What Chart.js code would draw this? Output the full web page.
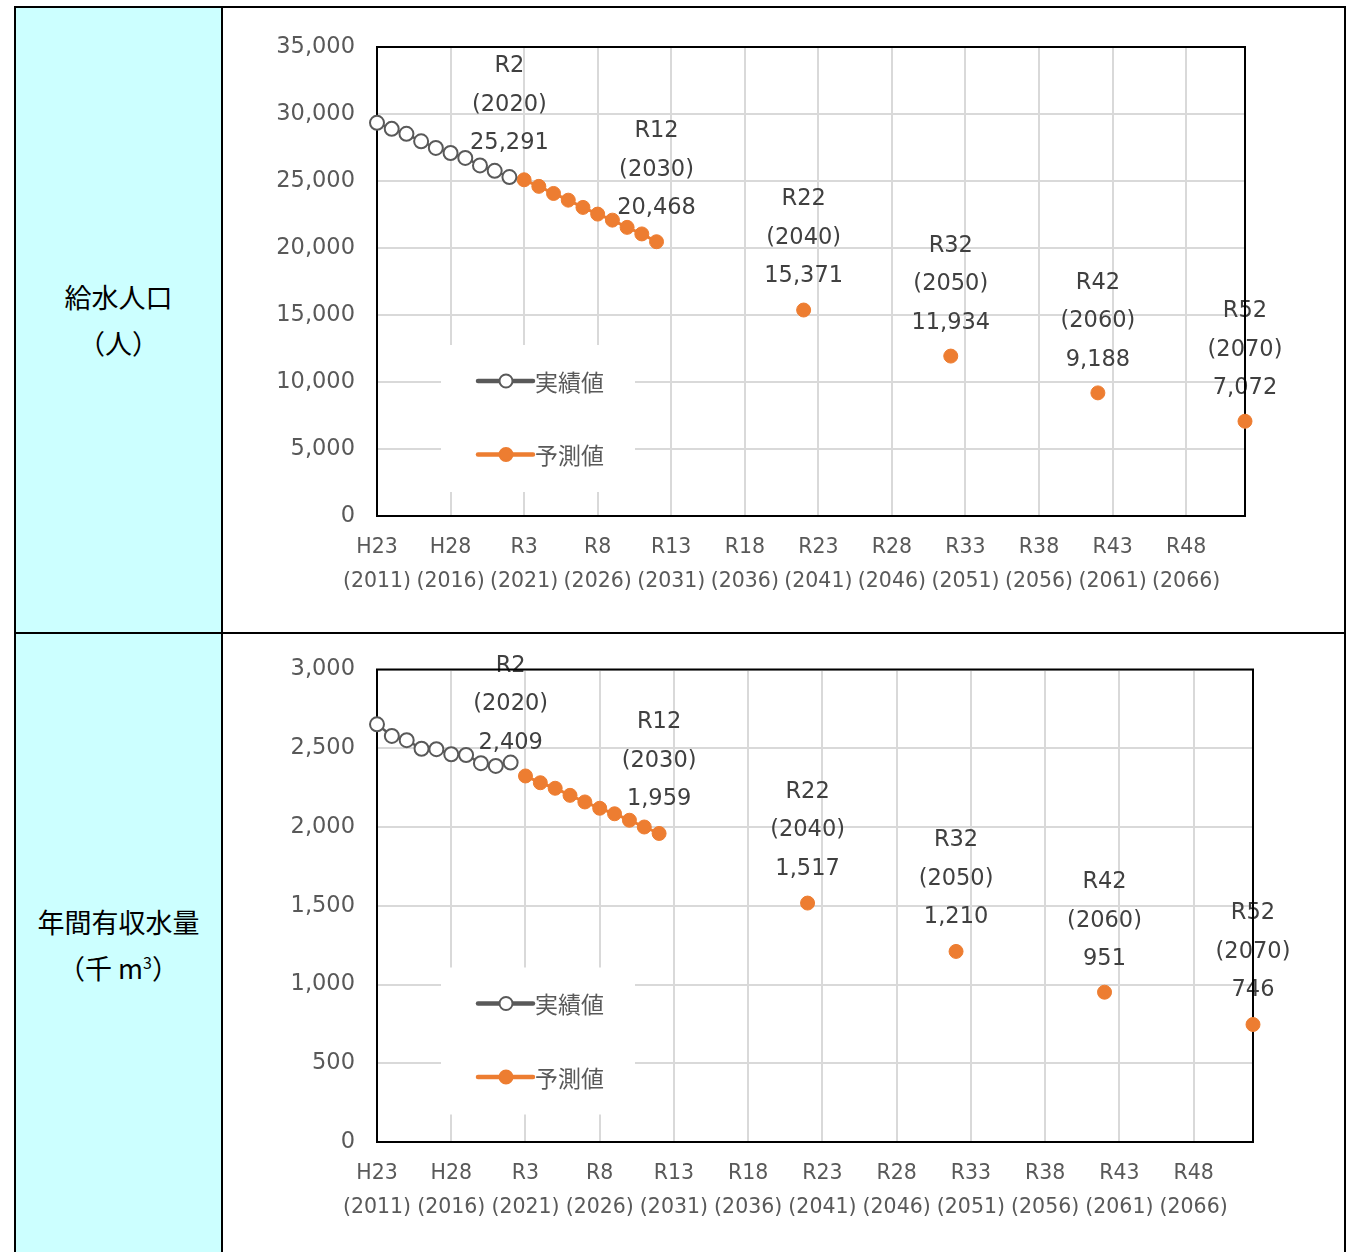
<!DOCTYPE html>
<html lang="ja">
<head>
<meta charset="utf-8">
<title>給水人口・年間有収水量の見通し</title>
<script src="https://cdn.jsdelivr.net/npm/chart.js"></script>
<style>
  body { margin: 0; background: #fff; width: 1352px; height: 1252px; overflow: hidden; position: relative; font-family: "Noto Sans CJK JP", sans-serif; }
  .abs { position: absolute; }
  .cyan { left: 14px; top: 6px; width: 208px; height: 1260px; background: #ccffff; }
  .line { background: #000; }
  .head { left: 16px; width: 205px; text-align: center; font-size: 27px; line-height: 46px; color: #000; }
  .head sup { font-size: 16px; line-height: 0; vertical-align: 10px; }
  canvas { position: absolute; }
</style>
</head>
<body>
<div class="abs cyan"></div>
<div class="abs head" style="top:274px">給水人口<br>（人）</div>
<div class="abs head" style="top:899px">年間有収水量<br>（千 m<sup>3</sup>）</div>
<canvas id="popChart" width="1119" height="623" style="left:224px;top:8px"></canvas>
<canvas id="waterChart" width="1119" height="618" style="left:224px;top:634px"></canvas>
<div class="abs line" style="left:14px;top:6px;width:1332px;height:2px"></div>
<div class="abs line" style="left:14px;top:6px;width:2px;height:1260px"></div>
<div class="abs line" style="left:221px;top:6px;width:2px;height:1260px"></div>
<div class="abs line" style="left:1344px;top:6px;width:2px;height:1260px"></div>
<div class="abs line" style="left:14px;top:632px;width:1332px;height:2px"></div>
<script>
  // 年度（カテゴリ）2011〜2070
  const years = []
  for (let y = 2011; y <= 2070; y++) years.push(String(y))

  // 5年ごとの目盛（和暦）
  const tickEras = ['H23', 'H28', 'R3', 'R8', 'R13', 'R18', 'R23', 'R28', 'R33', 'R38', 'R43', 'R48']

  // 値ラベルを付ける年度
  const labelYears = ['2020', '2030', '2040', '2050', '2060', '2070']
  const labelEras = ['R2', 'R12', 'R22', 'R32', 'R42', 'R52']

  // 実績 2011-2020、予測 2021-2030、以降は10年ごと
  const longTermYears = ['2040', '2050', '2060', '2070']

  // 給水人口（人）
  const popActual = [29340, 28890, 28520, 27960, 27470, 27090, 26720, 26160, 25760, 25291]
  const popForecast = [25090, 24600, 24070, 23570, 23030, 22530, 22080, 21540, 21050, 20468]
  const popLongTerm = [15371, 11934, 9188, 7072]

  // 年間有収水量（千m3）
  const waterActual = [2652, 2578, 2551, 2497, 2494, 2462, 2457, 2405, 2388, 2409]
  const waterForecast = [2324, 2281, 2246, 2201, 2159, 2119, 2084, 2043, 2000, 1959]
  const waterLongTerm = [1517, 1210, 951, 746]

  const GREY = '#595959'
  const ORANGE = '#ed7d31'
  const LATIN = '"DejaVu Sans", "Noto Sans CJK JP", sans-serif'

  function actualSeries(actual) {
    return years.map((y, i) => (i < actual.length ? actual[i] : null))
  }

  function forecastSeries(forecast, longTerm) {
    return years.map((y, i) => {
      if (i >= 10 && i < 10 + forecast.length) return forecast[i - 10]
      const k = longTermYears.indexOf(y)
      return k >= 0 ? longTerm[k] : null
    })
  }

  // 凡例・値ラベル・枠線
  const overlay = {
    id: 'overlay',
    beforeDatasetsDraw(chart, args, opts) {
      const ctx = chart.ctx
      const area = chart.chartArea
      const xs = chart.scales.x
      const ys = chart.scales.y
      ctx.save()

      // legend
      ctx.fillStyle = '#fff'
      ctx.fillRect(area.left + 64, area.top + 298, 194, 147)
      const items = [
        { text: '実績値', color: GREY, fill: '#fff' },
        { text: '予測値', color: ORANGE, fill: ORANGE },
      ]
      items.forEach((it, k) => {
        const y = area.top + 334 + k * 73.5
        const x0 = area.left + 101
        ctx.strokeStyle = it.color
        ctx.lineWidth = 4.5
        ctx.lineCap = 'round'
        ctx.beginPath()
        ctx.moveTo(x0, y)
        ctx.lineTo(x0 + 55, y)
        ctx.stroke()
        ctx.beginPath()
        ctx.arc(x0 + 28, y, 6.5, 0, Math.PI * 2)
        ctx.fillStyle = it.fill
        ctx.fill()
        ctx.lineWidth = 2
        ctx.stroke()
        ctx.fillStyle = GREY
        ctx.font = '23px "Noto Sans CJK JP", sans-serif'
        ctx.textAlign = 'left'
        ctx.textBaseline = 'middle'
        ctx.fillText(it.text, x0 + 57, y + 1)
      })

      // value labels
      const a = chart.data.datasets[0].data
      const f = chart.data.datasets[1].data
      ctx.fillStyle = '#404040'
      ctx.font = '22.5px ' + LATIN
      ctx.textAlign = 'center'
      ctx.textBaseline = 'middle'
      labelYears.forEach((yr, j) => {
        const i = years.indexOf(yr)
        const v = a[i] != null ? a[i] : f[i]
        const px = xs.getPixelForValue(i)
        const py = ys.getPixelForValue(v) - opts.lifts[j]
        ctx.fillText(labelEras[j], px, py - 77)
        ctx.fillText('(' + yr + ')', px, py - 38.5)
        ctx.fillText(v.toLocaleString('en-US'), px, py)
      })

      // plot frame
      ctx.strokeStyle = '#000'
      ctx.lineWidth = 2
      ctx.strokeRect(area.left, area.top, area.right - area.left, area.bottom - area.top)
      ctx.restore()
    },
  }

  function makeChart(id, actual, forecast, longTerm, yMax, yStep, pad, xHeight, lifts) {
    return new Chart(document.getElementById(id), {
      type: 'line',
      data: {
        labels: years,
        datasets: [
          {
            label: '実績値',
            data: actualSeries(actual),
            borderColor: GREY,
            borderWidth: 2.5,
            pointRadius: 7,
            pointBackgroundColor: '#fff',
            pointBorderColor: GREY,
            pointBorderWidth: 2,
            clip: false,
          },
          {
            label: '予測値',
            data: forecastSeries(forecast, longTerm),
            borderColor: ORANGE,
            borderWidth: 3,
            pointRadius: 7,
            pointBackgroundColor: ORANGE,
            pointBorderColor: ORANGE,
            pointBorderWidth: 1,
            clip: false,
          },
        ],
      },
      options: {
        responsive: false,
        animation: false,
        events: [],
        layout: { padding: pad },
        plugins: {
          legend: { display: false },
          tooltip: { enabled: false },
          overlay: { lifts: lifts },
        },
        scales: {
          x: {
            grid: { color: '#d9d9d9', lineWidth: 2, drawTicks: false },
            border: { display: false },
            ticks: {
              autoSkip: false,
              maxRotation: 0,
              minRotation: 0,
              padding: 14.5,
              color: GREY,
              font: { family: LATIN, size: 20.5, lineHeight: 1.65 },
              callback: (v, i) => (i % 5 === 0 ? [tickEras[i / 5], '(' + years[i] + ')'] : null),
            },
            afterFit: (s) => { s.height = xHeight },
          },
          y: {
            min: 0,
            max: yMax,
            grid: { color: '#d9d9d9', lineWidth: 2, drawTicks: false },
            border: { display: false },
            ticks: {
              stepSize: yStep,
              padding: 22,
              color: GREY,
              font: { family: LATIN, size: 22.5 },
              callback: (v) => v.toLocaleString('en-US'),
            },
            afterFit: (s) => { s.width = 153 },
          },
        },
      },
      plugins: [overlay],
    })
  }

  makeChart('popChart', popActual, popForecast, popLongTerm, 35000, 5000,
    { top: 39, right: 98, left: 0, bottom: 0 }, 115, [33.5, 33.5, 33.5, 33, 33, 33])
  makeChart('waterChart', waterActual, waterForecast, waterLongTerm, 3000, 500,
    { top: 34, right: 90, left: 0, bottom: 0 }, 110, [19.5, 34, 34, 34, 33, 34])
</script>
</body>
</html>
